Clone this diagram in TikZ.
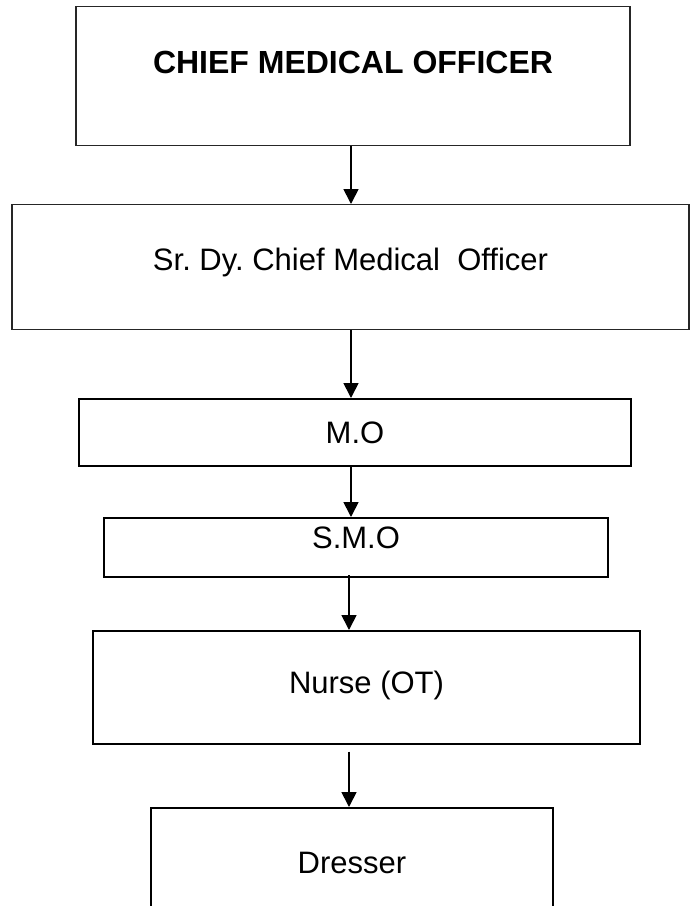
\documentclass[tikz,border=0pt]{standalone}
\usepackage{fontspec}
\setmainfont{Liberation Sans}
\usetikzlibrary{arrows.meta, positioning}
\frenchspacing

\begin{document}
\begin{tikzpicture}[
    x=1pt, y=-1pt,
    font=\fontsize{31}{36}\selectfont,
    box/.style={draw, rectangle, inner xsep=0pt, inner ysep=0pt, anchor=north},
    thinbox/.style={box, draw=black!85, line width=1.2pt},
    thickbox/.style={box, line width=2pt},
    midbox/.style={box, line width=1.6pt},
    fl/.style={-{Triangle[length=15pt, width=15pt]}, line width=1.7pt}
]
\useasboundingbox (0,0) rectangle (690,906);
\clip (0,0) rectangle (690,906);

% ===== BOXES =====
\node[thinbox, minimum width=554pt, text height=66.5pt, text depth=72.5pt] (CMO) at (353,6)
  {\fontsize{32}{36}\selectfont\bfseries CHIEF MEDICAL OFFICER};
\node[thinbox, minimum width=677pt, text height=66pt, text depth=59pt] (SDCMO) at (350.5,204)
  {Sr. Dy. Chief Medical\ \ Officer};
\node[thickbox, minimum width=552pt, text height=44pt, text depth=23pt] (MO) at (355,398) {M.O};
\node[thickbox, minimum width=504pt, text height=30pt, text depth=29pt] (SMO) at (356,517) {S.M.O};
\node[midbox, minimum width=547pt, text height=63pt, text depth=50pt] (NURSE) at (366.5,630) {Nurse (OT)};
\node[midbox, minimum width=402pt, text height=66pt, text depth=60pt] (DRESSER) at (352,807) {Dresser};

% ===== ARROWS =====
\coordinate (AX) at (351,0);
\coordinate (AXB) at (349,0);
\draw[fl] (CMO.south -| AX) -- (SDCMO.north -| AX);
\draw[fl] (SDCMO.south -| AX) -- (MO.north -| AX);
\draw[fl] (MO.south -| AX) -- (SMO.north -| AX);
\draw[fl] ([yshift=3pt]SMO.south -| AXB) -- (NURSE.north -| AXB);
\draw[fl] ([yshift=-7pt]NURSE.south -| AXB) -- (DRESSER.north -| AXB);

\end{tikzpicture}
\end{document}
